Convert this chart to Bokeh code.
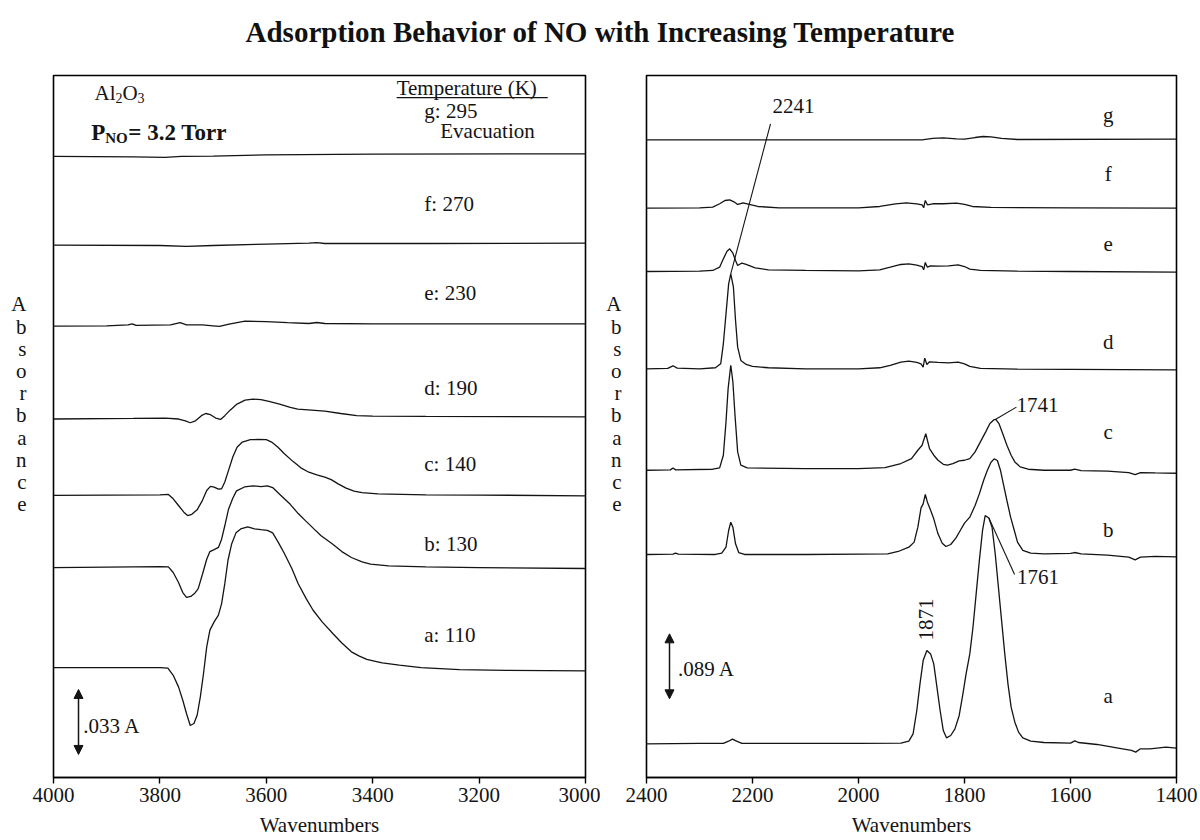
from bokeh.plotting import figure
from bokeh.layouts import column, row
from bokeh.models import Range1d, FixedTicker, Arrow, NormalHead, Div
from bokeh.core.properties import value
from bokeh.embed import file_html
from bokeh.resources import INLINE

SERIF = "Liberation Serif"
INK = "#141414"

TITLE = "Adsorption Behavior of NO with Increasing Temperature"
Y_LABEL = "\n".join("Absorbance")

# ---------------------------------------------------------------------------
# Left panel: hydroxyl (O-H stretch) region of Al2O3, difference spectra.
# Absorbance in mA (milli-absorbance units); each trace is stacked on an offset.
# ---------------------------------------------------------------------------
oh_temps = ["a: 110", "b: 130", "c: 140", "d: 190", "e: 230", "f: 270", "g: 295"]
oh_offsets = [55.8, 106.6, 143.2, 182.3, 229.5, 270.6, 315.8]
oh_ticks = [4000, 3800, 3600, 3400, 3200, 3000]
oh_scale_bar_A = 0.033

oh_a_wn = [4000, 3800, 3785, 3775, 3765, 3757, 3750, 3743, 3736, 3730,
           3724, 3718, 3712, 3706, 3698, 3690, 3684, 3678, 3672, 3665,
           3657, 3648, 3635, 3622, 3610, 3598, 3588, 3578, 3566, 3552,
           3540, 3525, 3512, 3495, 3475, 3458, 3440, 3425, 3411, 3395,
           3382, 3350, 3309, 3237, 3150, 3000]
oh_a_mA = [0, 0, -0.3, -3.9, -9.8, -16.6, -23.3, -29.4, -28.4, -24.2,
           -14.9, -3.0, 10.5, 19.0, 23.2, 26.6, 32.5, 42.6, 54.5, 62.9,
           68.4, 70.4, 71.4, 70.4, 70.0, 69.7, 68.4, 63.8, 57.9, 50.3,
           42.6, 35.0, 29.1, 23.2, 17.3, 12.5, 8.0, 5.8, 4.2, 3.2,
           2.4, 1.2, 0, -1.0, -1.4, -1.7]

oh_b_wn = [4000, 3800, 3784, 3775, 3765, 3757, 3750, 3742, 3735, 3728,
           3720, 3712, 3706, 3698, 3690, 3684, 3678, 3671, 3663, 3656,
           3641, 3625, 3610, 3598, 3588, 3575, 3555, 3540, 3526, 3510,
           3497, 3475, 3458, 3440, 3420, 3404, 3370, 3300, 3200, 3000]
oh_b_mA = [0, 0.5, 0.3, -2.5, -7.6, -12.7, -15.2, -14.7, -13.2, -10.7,
           -3.4, 4.2, 8.1, 9.1, 10.2, 14.4, 21.2, 29.6, 35.2, 38.9,
           40.9, 41.5, 41.1, 41.5, 40.6, 37.2, 32.1, 27.4, 23.7, 19.5,
           16.1, 11.8, 8.1, 5.1, 2.9, 1.7, 0.8, 0.3, 0, -0.5]

oh_c_wn = [4000, 3800, 3784, 3775, 3765, 3755, 3748, 3740, 3730, 3720,
           3712, 3705, 3698, 3690, 3684, 3678, 3671, 3663, 3655, 3645,
           3630, 3615, 3600, 3590, 3578, 3566, 3550, 3535, 3520, 3505,
           3490, 3478, 3465, 3450, 3435, 3420, 3390, 3300, 3200, 3000]
oh_c_mA = [0, 0.3, 0.5, -1.7, -5.1, -8.5, -10.2, -9.6, -7.3, -2.5,
           2.5, 4.6, 4.2, 3.2, 3.4, 6.8, 12.7, 19.5, 24.5, 27.1,
           28.3, 28.4, 28.3, 27.1, 24.5, 21.2, 17.3, 14.0, 11.8, 10.5,
           9.3, 8.0, 5.9, 3.7, 2.2, 1.4, 0.8, 0.3, 0.2, -0.2]

oh_d_wn = [4000, 3850, 3790, 3765, 3752, 3743, 3733, 3722, 3714, 3705,
           3695, 3686, 3678, 3668, 3655, 3640, 3625, 3610, 3595, 3575,
           3555, 3541, 3515, 3490, 3460, 3430, 3400, 3300, 3000]
oh_d_mA = [-0.3, 0, 0.2, -0.3, -1.2, -2.2, -1.2, 1.4, 2.5, 1.9,
           0.2, -0.5, 1.4, 4.2, 7.3, 9.3, 9.8, 9.5, 8.6, 7.3,
           5.6, 4.7, 4.2, 3.7, 2.5, 1.4, 1.2, 1.0, 0.8]

oh_e_wn = [4000, 3900, 3860, 3852, 3845, 3780, 3762, 3750, 3720, 3700,
           3688, 3670, 3640, 3600, 3560, 3520, 3505, 3490, 3400, 3000]
oh_e_mA = [-0.3, -0.2, 0.3, 0.8, 0, 0.3, 1.4, 0.3, 0.3, -0.2,
           -0.5, 0.7, 2.2, 1.9, 1.4, 1.0, 1.5, 1.0, 0.8, 0.8]

oh_f_wn = [4000, 3800, 3750, 3700, 3600, 3520, 3505, 3490, 3300, 3000]
oh_f_mA = [-0.3, -0.5, -1.0, -0.5, 0.2, 0.7, 1.0, 0.5, 0.5, 0.7]

oh_g_wn = [4000, 3850, 3790, 3760, 3700, 3600, 3400, 3000]
oh_g_mA = [-0.5, -0.7, -1.0, -0.5, -0.3, 0.3, 0.7, 0.8]

# ---------------------------------------------------------------------------
# Right panel: NO / N-containing adsorbate region (2400-1400 cm-1)
# ---------------------------------------------------------------------------
no_letters = ["a", "b", "c", "d", "e", "f", "g"]
no_offsets = [46.1, 305.3, 422.0, 559.5, 692.7, 779.9, 873.4]
no_ticks = [2400, 2200, 2000, 1800, 1600, 1400]
no_scale_bar_A = 0.089

no_a_wn = [2400, 2300, 2255, 2245, 2238, 2230, 2220, 2100, 2000, 1920,
           1905, 1897, 1890, 1884, 1878, 1871, 1864, 1858, 1852, 1846,
           1840, 1834, 1826, 1818, 1810, 1803, 1797, 1790, 1784, 1778,
           1772, 1766, 1761, 1754, 1748, 1742, 1736, 1730, 1724, 1718,
           1712, 1705, 1698, 1690, 1675, 1650, 1600, 1592, 1585, 1550,
           1510, 1485, 1477, 1468, 1450, 1420, 1400]
no_a_mA = [0, 0.5, 0.5, 3.6, 6.4, 3.6, 0.5, 0.5, 0.5, 0.9,
           3.6, 13.7, 45.6, 82.1, 114.0, 127.7, 123.1, 109.4, 77.5, 45.6,
           18.2, 8.2, 11.4, 20.5, 38.8, 68.4, 95.8, 123.1, 159.6, 205.2,
           250.8, 291.8, 312.4, 309.2, 296.4, 259.9, 214.3, 168.7, 123.1, 82.1,
           50.2, 29.6, 16.0, 8.2, 3.6, 1.8, 0.9, 4.1, 1.8, -0.9,
           -5.9, -9.1, -11.4, -6.8, -6.8, -4.6, -5.9]

no_b_wn = [2400, 2350, 2345, 2340, 2270, 2258, 2250, 2245, 2241, 2237,
           2232, 2226, 2215, 2100, 2000, 1945, 1925, 1905, 1895, 1888,
           1882, 1878, 1874, 1870, 1865, 1858, 1850, 1842, 1835, 1826,
           1816, 1808, 1800, 1790, 1780, 1772, 1764, 1757, 1750, 1744,
           1738, 1732, 1726, 1720, 1713, 1706, 1700, 1690, 1675, 1650,
           1600, 1592, 1580, 1530, 1490, 1478, 1468, 1440, 1400]
no_b_mA = [0, 0.5, 1.8, 0.5, 0, 1.8, 10.0, 32.8, 44.2, 37.4,
           14.6, 2.7, 0, 0, 0.5, 0.9, 4.1, 10.0, 16.9, 37.4,
           63.8, 69.3, 82.1, 71.6, 62.5, 48.8, 28.3, 15.5, 10.9, 13.7,
           22.8, 32.8, 42.9, 51.1, 67.0, 83.0, 101.2, 114.9, 126.3, 130.9,
           128.6, 114.9, 94.4, 73.9, 51.1, 32.8, 16.9, 5.5, 1.8, 0.9,
           1.4, 2.7, 0.9, -0.9, -3.6, -7.3, -3.6, -2.7, -3.2]

no_c_wn = [2400, 2355, 2350, 2345, 2275, 2262, 2255, 2250, 2246, 2241,
           2237, 2233, 2228, 2222, 2210, 2100, 2000, 1950, 1920, 1900,
           1888, 1880, 1876, 1873, 1870, 1866, 1858, 1850, 1840, 1832,
           1822, 1810, 1800, 1790, 1780, 1770, 1760, 1752, 1745, 1741,
           1735, 1728, 1720, 1712, 1705, 1695, 1680, 1650, 1600, 1592,
           1580, 1530, 1490, 1478, 1468, 1440, 1400]
no_c_mA = [-1.4, -0.9, 1.8, -0.9, 0, 1.8, 19.2, 64.8, 110.4, 142.3,
           119.5, 73.9, 23.7, 5.5, 1.8, 0.9, 0.9, 2.3, 7.8, 14.6,
           26.0, 32.8, 42.0, 48.8, 39.7, 28.3, 19.2, 12.3, 6.8, 5.5,
           7.8, 11.4, 12.3, 14.6, 23.7, 37.4, 51.1, 62.5, 67.5, 68.4,
           62.5, 48.8, 32.8, 19.2, 10.0, 3.2, 0, -1.4, -1.4, 0,
           -1.8, -2.7, -4.6, -7.3, -4.6, -5.0, -5.5]

no_d_wn = [2400, 2360, 2350, 2342, 2300, 2270, 2260, 2255, 2250, 2245,
           2241, 2236, 2232, 2228, 2222, 2212, 2200, 2170, 2100, 2000,
           1960, 1940, 1920, 1905, 1890, 1882, 1878, 1875, 1871, 1866,
           1850, 1830, 1812, 1800, 1790, 1770, 1700, 1600, 1400]
no_d_mA = [0, 0.5, 4.1, 0.9, 0, 1.4, 6.8, 34.2, 75.2, 116.3,
           130.0, 111.7, 66.1, 29.6, 11.4, 5.9, 3.2, 1.4, 0, 0,
           1.4, 4.6, 9.1, 10.5, 8.7, 6.8, 2.3, 14.6, 5.9, 9.6,
           8.7, 8.2, 9.1, 6.8, 3.2, 0.5, -0.5, -0.9, -1.4]

no_e_wn = [2400, 2300, 2275, 2262, 2255, 2248, 2243, 2237, 2232, 2228,
           2225, 2220, 2212, 2195, 2170, 2100, 2000, 1960, 1940, 1920,
           1905, 1890, 1880, 1877, 1874, 1870, 1864, 1850, 1830, 1812,
           1800, 1790, 1770, 1700, 1600, 1400]
no_e_mA = [0, 0.5, 1.4, 5.9, 17.3, 27.8, 31.0, 25.1, 15.0, 8.2,
           9.6, 11.4, 9.6, 5.0, 2.3, 1.4, 0.9, 2.3, 5.9, 9.6,
           10.5, 8.7, 6.8, 2.3, 12.3, 5.9, 7.8, 7.3, 7.8, 9.1,
           6.8, 3.2, 1.4, 0.5, 0, -0.9]

no_f_wn = [2400, 2300, 2275, 2262, 2252, 2243, 2235, 2228, 2224, 2218,
           2210, 2190, 2150, 2000, 1960, 1930, 1910, 1890, 1880, 1877,
           1874, 1870, 1860, 1840, 1815, 1800, 1785, 1750, 1600, 1400]
no_f_mA = [-0.5, 0, 0.9, 5.5, 10.0, 10.9, 8.2, 4.6, 5.5, 6.8,
           5.5, 1.8, 0, 0, 1.8, 5.5, 6.8, 5.5, 4.1, 0,
           10.0, 4.1, 5.5, 5.5, 6.4, 4.6, 1.8, 0.5, 0, -0.5]

no_g_wn = [2400, 2100, 1880, 1860, 1840, 1815, 1800, 1780, 1765, 1750, 1730, 1700, 1400]
no_g_mA = [-0.5, -0.5, -0.5, 1.4, 2.3, 0.9, 0.5, 2.7, 4.1, 3.6, 1.4, 0, 0.5]

oh_traces = [(oh_a_wn, oh_a_mA), (oh_b_wn, oh_b_mA), (oh_c_wn, oh_c_mA), (oh_d_wn, oh_d_mA),
             (oh_e_wn, oh_e_mA), (oh_f_wn, oh_f_mA), (oh_g_wn, oh_g_mA)]
no_traces = [(no_a_wn, no_a_mA), (no_b_wn, no_b_mA), (no_c_wn, no_c_mA), (no_d_wn, no_d_mA),
             (no_e_wn, no_e_mA), (no_f_wn, no_f_mA), (no_g_wn, no_g_mA)]


def stacked(trace, offset):
    wn, mA = trace
    return wn, [offset + v for v in mA]


def at(trace, offset, wn_target):
    wn, mA = trace
    return offset + mA[wn.index(wn_target)]


def make_panel(x_start, x_end, y_top, ticks, border_left, border_right, ylabel_standoff):
    p = figure(width=600, height=780,
               x_range=Range1d(x_start, x_end), y_range=Range1d(0, y_top),
               output_backend="svg", toolbar_location=None,
               min_border_left=border_left, min_border_right=border_right,
               min_border_top=15, min_border_bottom=63, margin=0)
    p.grid.visible = False
    p.outline_line_color = "black"
    p.outline_line_width = 1.6
    p.background_fill_color = "white"
    p.border_fill_color = "white"

    ax = p.xaxis[0]
    ax.ticker = FixedTicker(ticks=ticks)
    ax.axis_line_width = 1.6
    ax.axis_line_color = "black"
    ax.major_tick_line_color = "black"
    ax.major_tick_line_width = 1.4
    ax.major_tick_out = 6
    ax.major_tick_in = 0
    ax.minor_tick_line_color = None
    ax.major_label_text_font = SERIF
    ax.major_label_text_font_size = "21px"
    ax.major_label_text_color = INK
    ax.major_label_standoff = 4
    ax.axis_label = "Wavenumbers"
    ax.axis_label_text_font = SERIF
    ax.axis_label_text_font_size = "21px"
    ax.axis_label_text_font_style = "normal"
    ax.axis_label_text_color = INK
    ax.axis_label_standoff = 8

    # bare y axis carrying only the stacked-letter "Absorbance" title
    yax = p.yaxis[0]
    yax.ticker = FixedTicker(ticks=[])
    yax.axis_line_color = None
    yax.major_tick_line_color = None
    yax.minor_tick_line_color = None
    yax.major_label_text_font_size = "0px"
    yax.major_tick_out = 0
    yax.major_label_standoff = 0
    yax.axis_label = Y_LABEL + "\n \n "
    yax.axis_label_orientation = "horizontal"
    yax.axis_label_text_font = SERIF
    yax.axis_label_text_font_size = "21px"
    yax.axis_label_text_font_style = "normal"
    yax.axis_label_text_color = INK
    yax.axis_label_text_line_height = 0.925
    yax.axis_label_standoff = ylabel_standoff
    return p


def txt(p, x, y, s, size="21px", align="left", style="normal", dx=0, dy=0, angle=0):
    p.text(x=[x], y=[y], text=[s], text_font=value(SERIF), text_font_size=size,
           text_font_style=style, text_color=INK, text_align=align,
           text_baseline="middle", x_offset=dx, y_offset=dy, angle=angle)


def scale_bar(p, x, y0, length, label_x, label_y, label):
    head = dict(size=9, fill_color=INK, line_color=INK)
    p.add_layout(Arrow(start=NormalHead(**head), end=NormalHead(**head),
                       x_start=x, y_start=y0, x_end=x, y_end=y0 + length,
                       line_color=INK, line_width=1.5))
    txt(p, label_x, label_y, label)


# ---------------- left panel ----------------
p1 = make_panel(4000, 3000, 356.4, oh_ticks, 53, 15, 27)
for trace, off in zip(oh_traces, oh_offsets):
    xs, ys = stacked(trace, off)
    p1.line(xs, ys, line_color=INK, line_width=1.3)

temp_y = [72.6, 118.8, 159.4, 198.0, 246.2, 291.4, 338.6]
for lab, y in zip(oh_temps, temp_y):
    txt(p1, 3303, y, lab)
txt(p1, 3273, 328.0, "Evacuation")
txt(p1, 3355, 349.9, "Temperature (K)")
p1.line([3355, 3071], [345.2, 345.2], line_color=INK, line_width=1.2)

# Al2O3 with subscripts
txt(p1, 3923, 347.3, "Al")
txt(p1, 3923, 347.3, "2", size="14px", dx=21, dy=5)
txt(p1, 3923, 347.3, "O", dx=28)
txt(p1, 3923, 347.3, "3", size="14px", dx=43, dy=5)
# P_NO = 3.2 Torr
txt(p1, 3929, 327.5, "P", size="23px", style="bold")
txt(p1, 3929, 327.5, "NO", size="15px", style="bold", dx=14, dy=6)
txt(p1, 3929, 327.5, "= 3.2 Torr", size="23px", style="bold", dx=37)

scale_bar(p1, 3953, 11.7, oh_scale_bar_A * 1000, 3944, 26.4, ".033 A")

# ---------------- right panel ----------------
p2 = make_panel(2400, 1400, 961.0, no_ticks, 46, 24, 25)
for trace, off in zip(no_traces, no_offsets):
    xs, ys = stacked(trace, off)
    p2.line(xs, ys, line_color=INK, line_width=1.3)

letter_y = [110.9, 339.1, 472.7, 595.9, 730.6, 826.5, 906.3]
for lab, y in zip(no_letters, letter_y):
    txt(p2, 1529, y, lab, align="center")

# peak annotations with leader lines
peak_d_2241 = at(no_traces[3], no_offsets[3], 2241)
p2.line([2166, 2241], [894.9, peak_d_2241], line_color=INK, line_width=1.1)
txt(p2, 2122.6, 919.0, "2241", align="center")

peak_c_1741 = at(no_traces[2], no_offsets[2], 1741)
p2.line([1702, 1741], [507.0, peak_c_1741], line_color=INK, line_width=1.1)
txt(p2, 1662.3, 509.3, "1741", align="center")

flank_a_1754 = at(no_traces[0], no_offsets[0], 1754)
p2.line([1754, 1705.5], [flank_a_1754, 277.9], line_color=INK, line_width=1.1)
txt(p2, 1661.3, 274.2, "1761", align="center")

txt(p2, 1872.8, 216.3, "1871", align="center", angle=1.5708)

scale_bar(p2, 2356.6, 107.7, no_scale_bar_A * 1000, 2340.6, 148.8, ".089 A")

title = Div(text=('<div style="font-family:\'Liberation Serif\',serif;font-weight:bold;'
                  'font-size:29px;line-height:34px;text-align:center;width:1200px;'
                  'padding-top:15px;color:#111;">' + TITLE + '</div>'),
            width=1200, height=60, margin=0)

layout = column(title, row(p1, p2, spacing=0, margin=0), spacing=0, margin=0)

with open("out.html", "w") as fh:
    fh.write(file_html(layout, INLINE))
